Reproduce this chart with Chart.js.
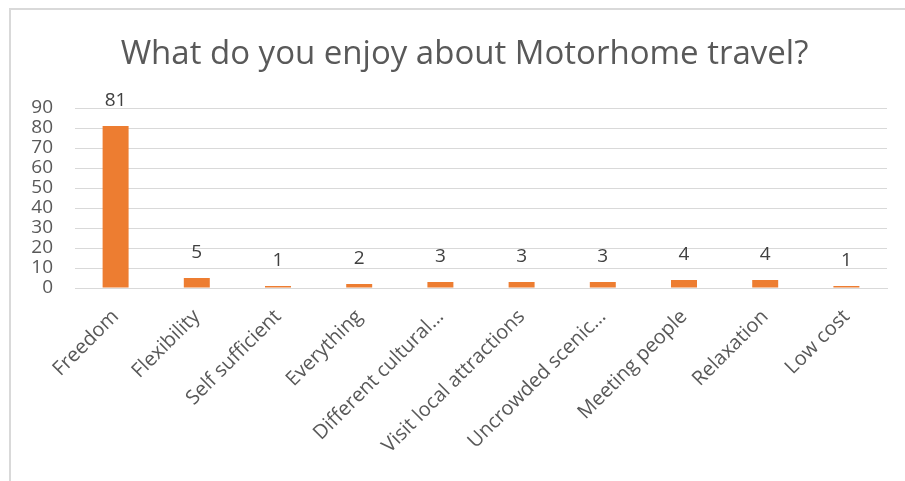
<!DOCTYPE html>
<html>
<head>
<meta charset="utf-8">
<script src="https://cdn.jsdelivr.net/npm/chart.js@4"></script>
<style>
  html, body { margin: 0; padding: 0; background: #fff; }
  #wrap { position: relative; width: 905px; height: 481px; }
  #frame { position: absolute; left: 9px; top: 8px; right: 0; bottom: 0;
           border-top: 2px solid #d9d9d9; border-left: 2px solid #d9d9d9; }
  canvas { position: absolute; left: 0; top: 0; }
</style>
</head>
<body>
<div id="wrap">
  <div id="frame"></div>
  <canvas id="chart" width="905" height="481"></canvas>
</div>
<script>
const categories = ['Freedom', 'Flexibility', 'Self sufficient', 'Everything', 'Different cultural…',
  'Visit local attractions', 'Uncrowded scenic…', 'Meeting people', 'Relaxation', 'Low cost'];
const counts = [81, 5, 1, 2, 3, 3, 3, 4, 4, 1];
const yTicks = [0, 10, 20, 30, 40, 50, 60, 70, 80, 90];
const titleText = 'What do you enjoy about Motorhome travel?';

const FONT = "'Open Sans', 'Liberation Sans', sans-serif";
const GREY = '#595959';

// value labels above each bar
const barLabels = {
  id: 'barLabels',
  afterDatasetsDraw(chart) {
    const ctx = chart.ctx;
    const meta = chart.getDatasetMeta(0);
    ctx.save();
    ctx.font = '19px ' + FONT;
    ctx.fillStyle = '#404040';
    ctx.textAlign = 'center';
    ctx.textBaseline = 'middle';
    meta.data.forEach((bar, i) => {
      ctx.fillText(String(counts[i]), bar.x, bar.y - 25);
    });
    ctx.restore();
  }
};

// title sits a little right of the canvas centre in the original
const chartTitle = {
  id: 'chartTitle',
  afterDraw(chart) {
    const ctx = chart.ctx;
    ctx.save();
    ctx.font = '33px ' + FONT;
    ctx.fillStyle = GREY;
    ctx.textAlign = 'center';
    ctx.textBaseline = 'middle';
    ctx.fillText(titleText, chart.width / 2 + 12, 55);
    ctx.restore();
  }
};

new Chart(document.getElementById('chart'), {
  type: 'bar',
  data: {
    labels: categories,
    datasets: [{
      data: counts,
      backgroundColor: '#ED7D31',
      barPercentage: 0.32,
      categoryPercentage: 1
    }]
  },
  options: {
    responsive: false,
    animation: false,
    layout: { padding: { left: 18, right: 18, top: 108, bottom: 0 } },
    plugins: {
      legend: { display: false },
      tooltip: { enabled: false },
      title: { display: false }
    },
    scales: {
      x: {
        grid: { display: false, drawTicks: false },
        border: { display: true, color: '#d9d9d9', width: 1 },
        ticks: {
          color: GREY,
          font: { family: FONT, size: 20 },
          maxRotation: 45,
          minRotation: 45,
          autoSkip: false,
          padding: 17
        },
        afterFit(s) { s.height = 193; }
      },
      y: {
        min: 0,
        max: 90,
        afterBuildTicks(s) { s.ticks = yTicks.map(v => ({ value: v })); },
        grid: { color: '#d9d9d9', drawTicks: false },
        border: { display: false },
        ticks: {
          color: GREY,
          font: { family: FONT, size: 19 },
          autoSkip: false,
          padding: 22
        },
        afterFit(s) { s.width = 57; }
      }
    }
  },
  plugins: [barLabels, chartTitle]
});
</script>
</body>
</html>
